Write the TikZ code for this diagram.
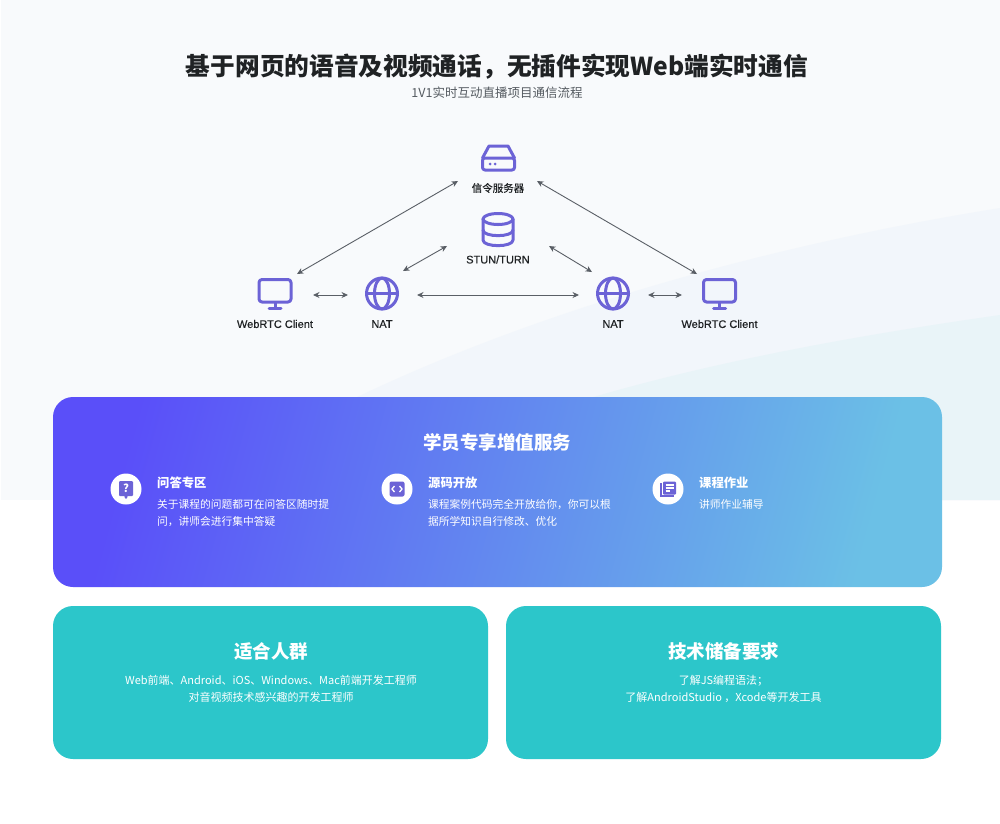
\documentclass[tikz,border=0pt]{standalone}
\usepackage{fontspec}
\setmainfont{Noto Sans CJK SC}
\newfontfamily\labfont[FakeBold=0.5]{Liberation Sans}
\newfontfamily\labcjk[FakeBold=0.5]{Noto Sans CJK SC}
\usetikzlibrary{arrows.meta}
\definecolor{bgtop}{HTML}{F8FAFC}
\definecolor{wave1}{HTML}{F2F6FB}
\definecolor{wave2}{HTML}{E9F4F8}
\definecolor{icon}{HTML}{6C63D6}
\definecolor{arrowc}{HTML}{5A5F66}
\definecolor{teal}{HTML}{2CC6CA}
\definecolor{gradL}{HTML}{5A4FF9}
\definecolor{gradR}{HTML}{6BC0E6}
\definecolor{titlec}{HTML}{1F2224}
\definecolor{subc}{HTML}{555B61}
\tikzset{
  x=1pt,y=-1pt,
  ico/.style={draw=icon,line width=3pt,line join=round,line cap=round},
  link/.style={draw=arrowc,line width=0.9pt,{Stealth[length=6.5pt,width=6pt]}-{Stealth[length=6.5pt,width=6pt]}},
  lab/.style={text=titlec,font=\fontsize{11}{13}\selectfont\labfont,inner sep=0pt},
  labzh/.style={text=titlec,font=\fontsize{10.5}{12}\selectfont\labcjk,inner sep=0pt},
  ptitle/.style={text=white,font=\fontsize{18.5}{22}\selectfont\bfseries,inner sep=0pt},
  itemt/.style={text=white,font=\fontsize{12.3}{16}\selectfont\bfseries,inner sep=0pt,anchor=west},
  itemd/.style={text=white,font=\fontsize{10.75}{17}\selectfont,inner sep=0pt,anchor=north west,align=left},
  cardd/.style={text=white,font=\fontsize{11}{17}\selectfont,inner sep=0pt,align=center},
  badge/.style={circle,fill=white,minimum size=31pt,inner sep=0pt},
  card/.style={fill=teal,rounded corners=20pt},
}
\begin{document}
\begin{tikzpicture}
\useasboundingbox (0,0) rectangle (1000,823);
\fill[white] (0,0) rectangle (1000,823);
\fill[bgtop] (1,0) rectangle (1000,500);
\fill[wave1] (355,398) .. controls (560,300) and (800,240) .. (1000,208) -- (1000,500) -- (355,500) -- cycle;
\fill[wave2] (590,398) .. controls (720,360) and (860,335) .. (1000,315) -- (1000,500) -- (590,500) -- cycle;

\node[text=titlec,font=\fontsize{24.7}{30}\selectfont\bfseries,inner sep=0pt] (title) at (497,66.5) {基于网页的语音及视频通话，无插件实现Web端实时通信};
\node[text=subc,font=\fontsize{12.5}{15}\selectfont,inner sep=0pt] (subtitle) at (497,93) {1V1实时互动直播项目通信流程};

% server icon
\draw[ico] (482.5,158) -- (489,146) -- (508,146) -- (514.5,158);
\draw[ico,rounded corners=2.5pt] (482.5,158) rectangle (514.5,170);
\fill[icon] (490,164) circle (1.5pt) (495,164) circle (1.5pt);
\node[labzh] (server) at (498,188) {信令服务器};
% database icon
\draw[ico] (498,219) ellipse (15pt and 5.5pt);
\draw[ico] (483,219) -- (483,240) .. controls (483,247.5) and (513,247.5) .. (513,240) -- (513,219);
\draw[ico] (483,230) .. controls (483,237.5) and (513,237.5) .. (513,230);
\node[lab] (stun) at (498,259.5) {STUN/TURN};

% clients
\foreach \cx in {275,719.5}{
  \draw[ico,rounded corners=3pt] (\cx-16,279.5) rectangle (\cx+16,302);
  \draw[ico] (\cx,303) -- (\cx,307) (\cx-6,308) -- (\cx+6,308);
}
\node[lab] (clientL) at (275,324) {WebRTC Client};
\node[lab] (clientR) at (719.5,324) {WebRTC Client};
% globes
\foreach \gx in {382,613}{
  \draw[ico] (\gx,293.5) circle (15.5pt);
  \draw[ico] (\gx,293.5) ellipse (7.5pt and 15.5pt);
  \draw[ico] (\gx-15.5,293.5) -- (\gx+15.5,293.5);
}
\node[lab] (natL) at (382,324) {NAT};
\node[lab] (natR) at (613,324) {NAT};

% connector ends
\coordinate (a1) at (297,274); \coordinate (a2) at (458,181);
\coordinate (b1) at (403,271); \coordinate (b2) at (447,246);
\coordinate (c1) at (313,295); \coordinate (c2) at (348,295);
\coordinate (d1) at (417,295); \coordinate (d2) at (579,295);
\coordinate (e1) at (549,246); \coordinate (e2) at (592,272);
\coordinate (f1) at (537,181); \coordinate (f2) at (697,274);
\coordinate (g1) at (648,295); \coordinate (g2) at (682,295);
\foreach \p/\q in {a1/a2,b1/b2,c1/c2,d1/d2,e1/e2,f1/f2,g1/g2}{\draw[link] (\p) -- (\q);}

% gradient panel
\shade[left color=gradL,right color=gradR,shading angle=75,rounded corners=20pt] (53,397) rectangle (942,587);
\node[ptitle] (ptitle) at (497,442.5) {学员专享增值服务};

\node[badge] (b-qa) at (126,489) {};
\node[badge] (b-code) at (397,489) {};
\node[badge] (b-hw) at (668,489) {};
% question icon
\fill[icon,rounded corners=1pt] (119,481) rectangle (133,496) (124,496) -- (126,499.5) -- (128,496) -- cycle;
\node[text=white,font=\fontsize{11}{12}\selectfont\bfseries,inner sep=0pt] (qm) at (126,488.5) {?};
% code icon
\fill[icon,rounded corners=2pt] (389.5,481.5) rectangle (404.5,496.5);
\draw[white,line width=1.3pt] (394.5,486) -- (392,489) -- (394.5,492) (399.5,486) -- (402,489) -- (399.5,492);
% homework icon
\draw[icon,line width=1.4pt] (661,483) -- (661,496) -- (674,496);
\fill[icon,rounded corners=1pt] (663,481.5) rectangle (676,494.5);
\draw[white,line width=1.2pt] (665.5,485) -- (673.5,485) (665.5,488) -- (673.5,488) (665.5,491) -- (670,491);

\node[itemt] (t1) at (157,483) {问答专区};
\node[itemt] (t2) at (428,483) {源码开放};
\node[itemt] (t3) at (699,483) {课程作业};
\node[itemd] (d1) at (157,499.5) {关于课程的问题都可在问答区随时提\\问，讲师会进行集中答疑};
\node[itemd] (d2) at (428,499.5) {课程案例代码完全开放给你，你可以根\\据所学知识自行修改、优化};
\node[itemd] (d3) at (699,499.5) {讲师作业辅导};

% bottom cards
\fill[card] (53,606) rectangle (488,759);
\fill[card] (506,606) rectangle (941,759);
\node[ptitle] (c1t) at (271,651) {适合人群};
\node[ptitle] (c2t) at (723.5,651) {技术储备要求};
\node[cardd] (c1d) at (271,688.5) {Web前端、Android、iOS、Windows、Mac前端开发工程师\\对音视频技术感兴趣的开发工程师};
\node[cardd] (c2d) at (723.5,688.5) {了解JS编程语法；\\了解AndroidStudio ，Xcode等开发工具};
\end{tikzpicture}
\end{document}
